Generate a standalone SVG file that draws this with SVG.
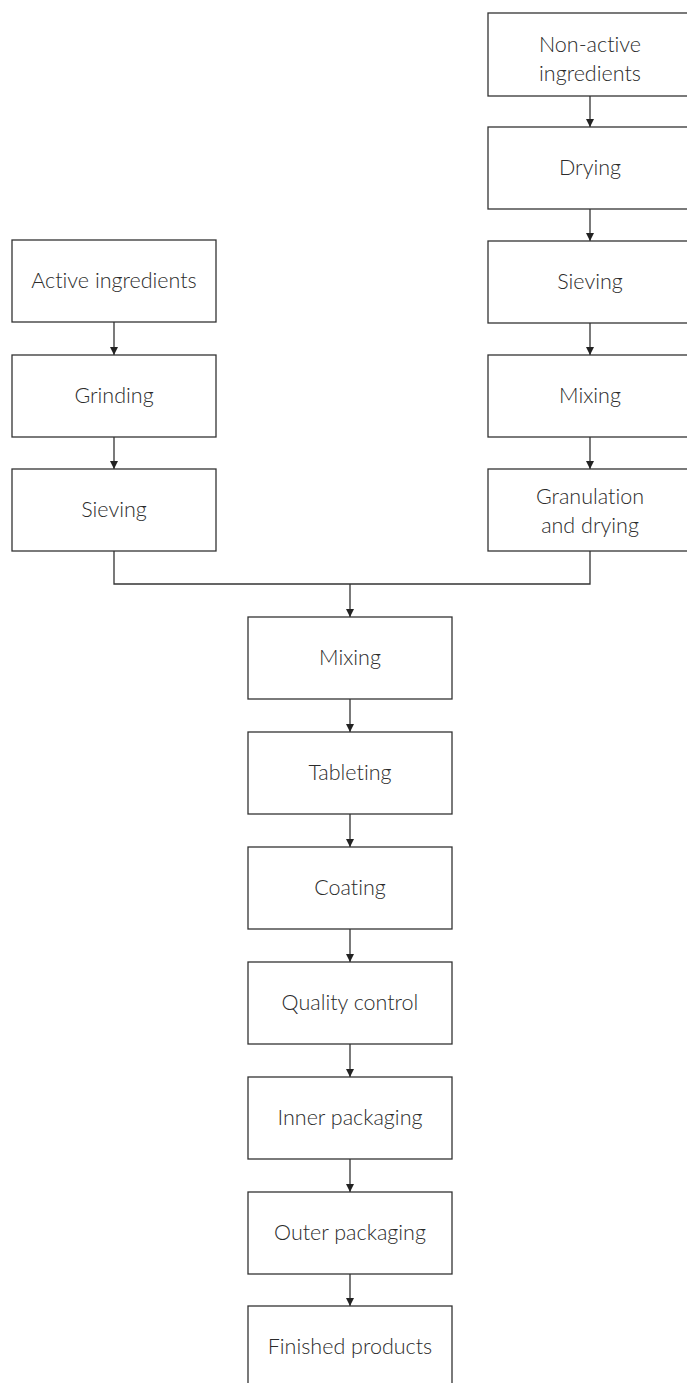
<svg xmlns="http://www.w3.org/2000/svg" width="687" height="1383" viewBox="0 0 687 1383">
<style>
.box{fill:#fff;stroke:#333;stroke-width:1.3}
.t{font-family:Lato,"Liberation Sans",sans-serif;font-weight:300;font-size:21.5px;fill:#2b2b2b;text-anchor:middle;font-variant-ligatures:none}
.c{fill:none;stroke:#333;stroke-width:1.3}
</style>
<defs>
<marker id="ah" viewBox="0 0 8 10" refX="8" refY="5" markerWidth="8" markerHeight="10" markerUnits="userSpaceOnUse" orient="auto">
<path d="M0,1 L8,5 L0,9 z" fill="#222"/>
</marker>
</defs>
<rect width="687" height="1383" fill="#fff"/>
<g id="connectors">
<line class="c" x1="590" y1="96" x2="590" y2="127" marker-end="url(#ah)"/>
<line class="c" x1="590" y1="209" x2="590" y2="241" marker-end="url(#ah)"/>
<line class="c" x1="590" y1="323" x2="590" y2="355" marker-end="url(#ah)"/>
<line class="c" x1="590" y1="437" x2="590" y2="469" marker-end="url(#ah)"/>
<line class="c" x1="114" y1="322" x2="114" y2="355" marker-end="url(#ah)"/>
<line class="c" x1="114" y1="437" x2="114" y2="469" marker-end="url(#ah)"/>
<polyline class="c" points="114,551 114,584 590,584 590,551"/>
<line class="c" x1="350" y1="584" x2="350" y2="617" marker-end="url(#ah)"/>
<line class="c" x1="350" y1="699" x2="350" y2="732" marker-end="url(#ah)"/>
<line class="c" x1="350" y1="814" x2="350" y2="847" marker-end="url(#ah)"/>
<line class="c" x1="350" y1="929" x2="350" y2="962" marker-end="url(#ah)"/>
<line class="c" x1="350" y1="1044" x2="350" y2="1077" marker-end="url(#ah)"/>
<line class="c" x1="350" y1="1159" x2="350" y2="1192" marker-end="url(#ah)"/>
<line class="c" x1="350" y1="1274" x2="350" y2="1306" marker-end="url(#ah)"/>
</g>
<g id="n-nonactive"><rect class="box" x="488" y="13" width="204" height="83"/><text class="t" x="590" y="52">Non-active</text><text class="t" x="590" y="81">ingredients</text></g>
<g id="n-drying"><rect class="box" x="488" y="127" width="204" height="82"/><text class="t" x="590" y="175">Drying</text></g>
<g id="n-sieving-r"><rect class="box" x="488" y="241" width="204" height="82"/><text class="t" x="590" y="289">Sieving</text></g>
<g id="n-mixing-r"><rect class="box" x="488" y="355" width="204" height="82"/><text class="t" x="590" y="403">Mixing</text></g>
<g id="n-granulation"><rect class="box" x="488" y="469" width="204" height="82"/><text class="t" x="590" y="504">Granulation</text><text class="t" x="590" y="533">and drying</text></g>
<g id="n-active"><rect class="box" x="12" y="240" width="204" height="82"/><text class="t" x="114" y="288">Active ingredients</text></g>
<g id="n-grinding"><rect class="box" x="12" y="355" width="204" height="82"/><text class="t" x="114" y="403">Grinding</text></g>
<g id="n-sieving-l"><rect class="box" x="12" y="469" width="204" height="82"/><text class="t" x="114" y="517">Sieving</text></g>
<g id="n-mixing"><rect class="box" x="248" y="617" width="204" height="82"/><text class="t" x="350" y="665">Mixing</text></g>
<g id="n-tableting"><rect class="box" x="248" y="732" width="204" height="82"/><text class="t" x="350" y="780">Tableting</text></g>
<g id="n-coating"><rect class="box" x="248" y="847" width="204" height="82"/><text class="t" x="350" y="895">Coating</text></g>
<g id="n-qc"><rect class="box" x="248" y="962" width="204" height="82"/><text class="t" x="350" y="1010">Quality control</text></g>
<g id="n-inner"><rect class="box" x="248" y="1077" width="204" height="82"/><text class="t" x="350" y="1125">Inner packaging</text></g>
<g id="n-outer"><rect class="box" x="248" y="1192" width="204" height="82"/><text class="t" x="350" y="1240">Outer packaging</text></g>
<g id="n-finished"><rect class="box" x="248" y="1306" width="204" height="82"/><text class="t" x="350" y="1354">Finished products</text></g>
</svg>
